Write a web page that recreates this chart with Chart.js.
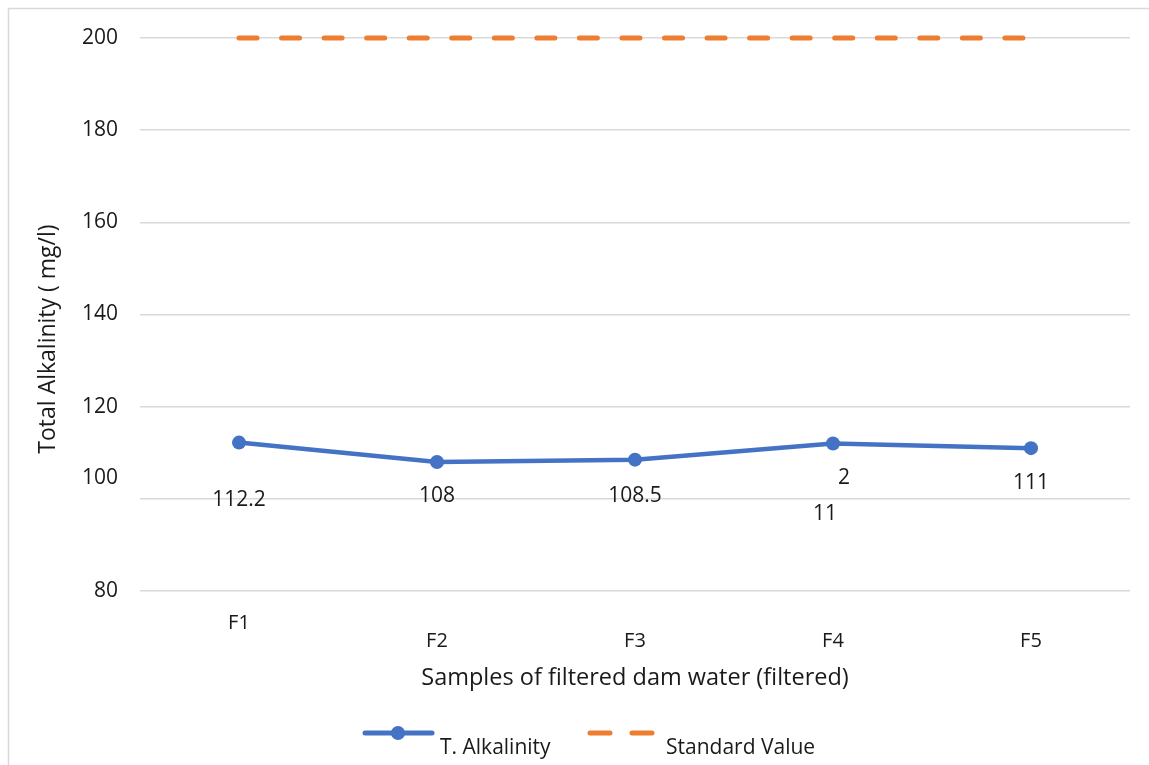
<!DOCTYPE html>
<html>
<head>
  <title>Total Alkalinity of Filtered Dam Water</title>
  <script src="https://cdn.jsdelivr.net/npm/chart.js"></script>
  <style>
    body { margin: 0; background: #fff; }
    .chart-box { width: 1149px; height: 765px; }
  </style>
</head>
<body>
  <div class="chart-box">
    <canvas id="alkalinityChart"></canvas>
  </div>

  <script>
  // Sample names and measured values (mg/l)
  const samples = ['F1', 'F2', 'F3', 'F4', 'F5'];
  const alkalinity = [112.2, 108, 108.5, 112, 111];
  const standardValue = [200, 200, 200, 200, 200];
  const yMin = 80;
  const yMax = 200;
  const yStep = 20;

  const xTitle = 'Samples of filtered dam water (filtered)';
  const yTitle = 'Total Alkalinity ( mg/l)';

  const BLUE = '#4472C4';
  const ORANGE = '#ED7D31';
  const GRID = '#d9d9d9';
  const TEXT = '#1a1a1a';
  const FONT = "'Open Sans', sans-serif";

  // where each value label sits relative to its point (F4's label wraps oddly)
  const labelPlacement = [
    [{ dx: 0, dy: 57 }],
    [{ dx: 0, dy: 34 }],
    [{ dx: 0, dy: 36 }],
    [{ dx: -8, dy: 70, end: 2 }, { dx: 11, dy: 34, start: 2 }],
    [{ dx: 0, dy: 35 }],
  ];

  Chart.defaults.font.family = FONT;
  Chart.defaults.font.size = 21;
  Chart.defaults.color = TEXT;

  // outer frame, value labels, axis titles and legend
  const decorations = {
    id: 'decorations',
    beforeDraw(chart) {
      const ctx = chart.ctx;
      ctx.save();
      ctx.strokeStyle = GRID;
      ctx.lineWidth = 1.5;
      ctx.strokeRect(8.5, 8.5, 1300, 900);
      ctx.restore();
    },
    afterDatasetsDraw(chart) {
      const ctx = chart.ctx;
      const meta = chart.getDatasetMeta(0);
      ctx.save();
      ctx.font = '21px ' + FONT;
      ctx.fillStyle = TEXT;
      ctx.textAlign = 'center';
      ctx.textBaseline = 'middle';
      meta.data.forEach((pt, i) => {
        const txt = String(alkalinity[i]);
        labelPlacement[i].forEach(p => {
          ctx.fillText(txt.slice(p.start || 0, p.end), pt.x + p.dx, pt.y + p.dy);
        });
      });
      ctx.restore();
    },
    afterDraw(chart) {
      const ctx = chart.ctx;
      ctx.save();
      ctx.fillStyle = TEXT;
      ctx.textBaseline = 'middle';

      // axis titles
      ctx.textAlign = 'center';
      ctx.font = '23.5px ' + FONT;
      ctx.fillText(xTitle, 635, 678);
      ctx.save();
      ctx.font = '23px ' + FONT;
      ctx.translate(48, 339);
      ctx.rotate(-Math.PI / 2);
      ctx.fillText(yTitle, 0, 0);
      ctx.restore();

      // legend
      const ds = chart.data.datasets;
      ctx.lineCap = 'round';
      ctx.lineWidth = 5;
      ctx.strokeStyle = ds[0].borderColor;
      ctx.beginPath();
      ctx.moveTo(365, 733);
      ctx.lineTo(432, 733);
      ctx.stroke();
      ctx.fillStyle = ds[0].pointBackgroundColor;
      ctx.beginPath();
      ctx.arc(398, 733, 7, 0, Math.PI * 2);
      ctx.fill();

      ctx.strokeStyle = ds[1].borderColor;
      ctx.beginPath();
      ctx.moveTo(590, 733);
      ctx.lineTo(610, 733);
      ctx.moveTo(632, 733);
      ctx.lineTo(652, 733);
      ctx.stroke();

      ctx.fillStyle = TEXT;
      ctx.textAlign = 'left';
      ctx.font = '21px ' + FONT;
      ctx.fillText(ds[0].label, 440, 748);
      ctx.fillText(ds[1].label, 666, 748);
      ctx.restore();
    }
  };

  new Chart(document.getElementById('alkalinityChart'), {
    type: 'line',
    data: {
      labels: samples,
      datasets: [
        {
          label: 'T. Alkalinity',
          data: alkalinity,
          borderColor: BLUE,
          borderWidth: 4.5,
          pointRadius: 7,
          pointBackgroundColor: BLUE,
          pointBorderColor: BLUE,
          pointBorderWidth: 0,
          tension: 0,
        },
        {
          label: 'Standard Value',
          data: standardValue,
          borderColor: ORANGE,
          borderWidth: 5,
          borderDash: [18, 24.55],
          borderCapStyle: 'round',
          pointRadius: 0,
          clip: false,
        },
      ],
    },
    options: {
      responsive: true,
      maintainAspectRatio: false,
      animation: false,
      layout: { padding: { left: 0, right: 19, top: 38, bottom: 0 } },
      plugins: {
        legend: { display: false },
        tooltip: { enabled: false },
      },
      scales: {
        x: {
          offset: true,
          grid: { display: false, drawTicks: false },
          border: { display: false },
          ticks: {
            padding: 23,
            font: { size: 20, lineHeight: '18px' },
            callback: function (value, index) {
              const name = this.getLabelForValue(value);
              return index === 0 ? name : ['', name];
            },
          },
          afterFit: s => { s.height = 765 - 591; },
        },
        y: {
          min: yMin,
          max: yMax,
          grid: { color: GRID, lineWidth: 1.5, drawTicks: false },
          border: { display: false },
          ticks: {
            stepSize: yStep,
            padding: 22,
            font: { size: 21, lineHeight: '21px' },
            callback: v => (v === 100 ? ['100', '', ''] : v),
          },
          afterFit: s => { s.width = 140; },
        },
      },
    },
    plugins: [decorations],
  });
  </script>
</body>
</html>
